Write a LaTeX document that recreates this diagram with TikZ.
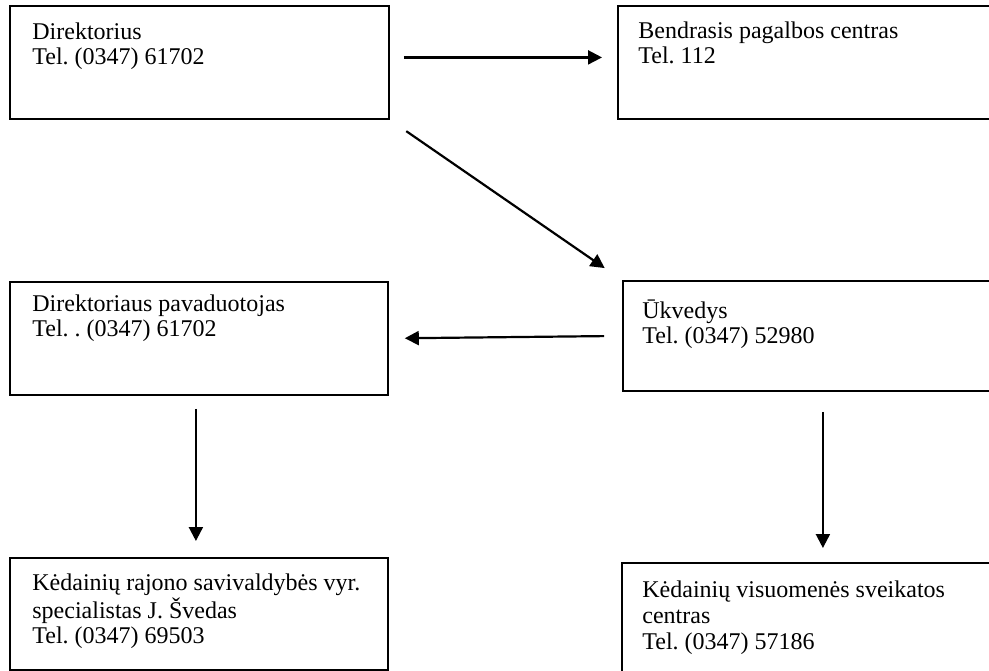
\documentclass[tikz,border=0pt]{standalone}
\usepackage{fontspec}
\setmainfont{Liberation Serif}
\usetikzlibrary{arrows.meta, positioning, calc}
\frenchspacing

\begin{document}
\begin{tikzpicture}[
    x=0.5pt, y=-0.5pt,
    font=\fontsize{12}{12.5}\selectfont,
    box/.style={
        draw=black,
        line width=0.9pt,
        anchor=north west,
        inner sep=0pt
    },
    label/.style={
        anchor=base west,
        align=left,
        inner sep=0pt
    },
    arrow/.style={-{Triangle[length=7pt, width=7pt]}, line width=1.1pt}
]

\useasboundingbox (0,0) rectangle (989,670);
\clip (0,0) rectangle (989,670);

% boxes
\node[box, minimum width=189.5pt, minimum height=56.5pt] (dir) at (9,5) {};
\node[box, minimum width=190pt, minimum height=56.5pt] (bpc) at (617,5) {};
\node[box, minimum width=189pt, minimum height=56.5pt] (pav) at (9,281) {};
\node[box, minimum width=200pt, minimum height=55pt] (ukv) at (622,280) {};
\node[box, minimum width=189pt, minimum height=56pt] (spec) at (9,557) {};
\node[box, minimum width=202pt, minimum height=60pt] (vsc) at (621,562) {};

% texts (anchored at the baseline of the last line)
\node[label] (tdir) at (32,64) {Direktorius\\Tel. (0347) 61702};
\node[label] (tbpc) at (638,63) {Bendrasis pagalbos centras\\Tel. 112};
\node[label] (tpav) at (32,336) {Direktoriaus pavaduotojas\\Tel. . (0347) 61702};
\node[label] (tukv) at (642,343) {Ūkvedys\\Tel. (0347) 52980};
\node[label, font=\fontsize{12}{12.5}\selectfont] (tspec) at (32,643)
    {Kėdainių rajono savivaldybės vyr.\\specialistas J. Švedas\\Tel. (0347) 69503};
\node[label, font=\fontsize{12}{13}\selectfont] (tvsc) at (642,649)
    {Kėdainių visuomenės sveikatos\\centras\\Tel. (0347) 57186};

% connectors
\draw[arrow, shorten <=7pt, shorten >=7.5pt] ([yshift=2.5pt]dir.east) -- ([yshift=2.5pt]dir.east -| bpc.west);
\draw[arrow, shorten <=10pt, shorten >=10.5pt] (dir.south east) -- (ukv.north west);
\draw[arrow, shorten <=9pt, shorten >=8pt] (ukv.west) -- (pav.east);
\draw[arrow, shorten <=6.5pt, shorten >=8pt] ([xshift=-1.5pt]pav.south) -- ([xshift=-1.5pt]spec.north);
\draw[arrow, shorten <=10pt, shorten >=7pt] (ukv.south) -- (vsc.north -| ukv.south);

\end{tikzpicture}
\end{document}
